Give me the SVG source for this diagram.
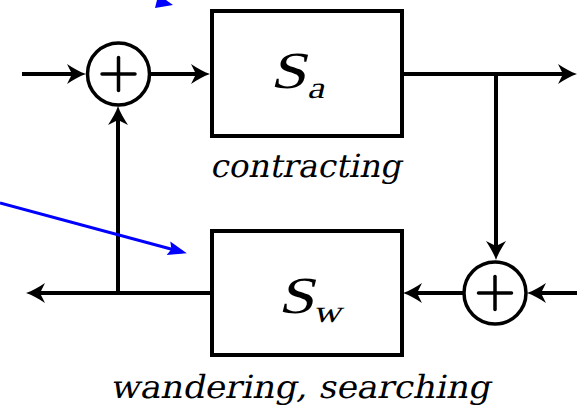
<svg xmlns="http://www.w3.org/2000/svg" width="577" height="414" viewBox="0 0 577 414">
<style>
.ln{fill:none;stroke:#000;stroke-width:4;marker-end:url(#ah)}
.box{fill:#fff;stroke:#000;stroke-width:4}
.sum{fill:#fff;stroke:#000;stroke-width:3.5}
.plus{stroke:#000;stroke-width:3.5;stroke-linecap:round}
.blue{fill:none;stroke:#0000ff;stroke-width:3;marker-end:url(#bh)}
.m{font-family:"Liberation Serif",serif;fill:#000}
.c{font-family:"DejaVu Serif",serif;fill:#000}
</style>
<defs>
<marker id="ah" markerUnits="userSpaceOnUse" markerWidth="22" markerHeight="22" viewBox="0 0 22 22" refX="16" refY="11" orient="auto" overflow="visible">
<path d="M21,11 C15,9 8,5 2,1 L7,11 L2,21 C8,17 15,13 21,11 Z" fill="#000"/>
</marker>
<marker id="bh" markerUnits="userSpaceOnUse" markerWidth="20" markerHeight="16" viewBox="0 0 20 16" refX="14" refY="8" orient="auto" overflow="visible">
<path d="M0,1 L19,8 L0,15 L3,8 Z" fill="#0000ff"/>
</marker>
</defs>
<g id="connectors">
<path class="ln" d="M22,74 H81"/>
<path class="ln" d="M150,74 H205"/>
<path class="ln" d="M402,74 H572"/>
<path class="ln" d="M496,74 V255"/>
<path class="ln" d="M577,293 H532"/>
<path class="ln" d="M463,293 H408"/>
<path class="ln" d="M212,293 H31"/>
<path class="ln" d="M118,293 V111"/>
<path class="blue" d="M0,203 L182,252"/>
<polygon points="157,0 166,0 173,5 155,8" fill="#0000ff"/>
</g>
<g id="sum1">
<circle class="sum" cx="118.5" cy="74" r="31"/>
<line class="plus" x1="102" y1="74" x2="135" y2="74"/>
<line class="plus" x1="118.5" y1="57.5" x2="118.5" y2="90.5"/>
</g>
<g id="Sa">
<rect class="box" x="212" y="11" width="190" height="125"/>
<text class="m" transform="translate(270,88) skewX(-14)" font-size="52" textLength="36" lengthAdjust="spacingAndGlyphs">S</text>
<text class="m" transform="translate(307,98) skewX(-14)" font-size="31" textLength="17" lengthAdjust="spacingAndGlyphs">a</text>
<text class="c" transform="translate(210,177) skewX(-12)" font-size="32" textLength="191" lengthAdjust="spacingAndGlyphs">contracting</text>
</g>
<g id="sum2">
<circle class="sum" cx="495" cy="293" r="31"/>
<line class="plus" x1="478.5" y1="293" x2="511.5" y2="293"/>
<line class="plus" x1="495" y1="276.5" x2="495" y2="309.5"/>
</g>
<g id="Sw">
<rect class="box" x="212" y="231" width="190" height="124"/>
<text class="m" transform="translate(278,313) skewX(-14)" font-size="52" textLength="36" lengthAdjust="spacingAndGlyphs">S</text>
<text class="m" transform="translate(313,322) skewX(-14)" font-size="31" textLength="28" lengthAdjust="spacingAndGlyphs">w</text>
<text class="c" transform="translate(110,398) skewX(-12)" font-size="32" textLength="380" lengthAdjust="spacingAndGlyphs">wandering, searching</text>
</g>
</svg>
